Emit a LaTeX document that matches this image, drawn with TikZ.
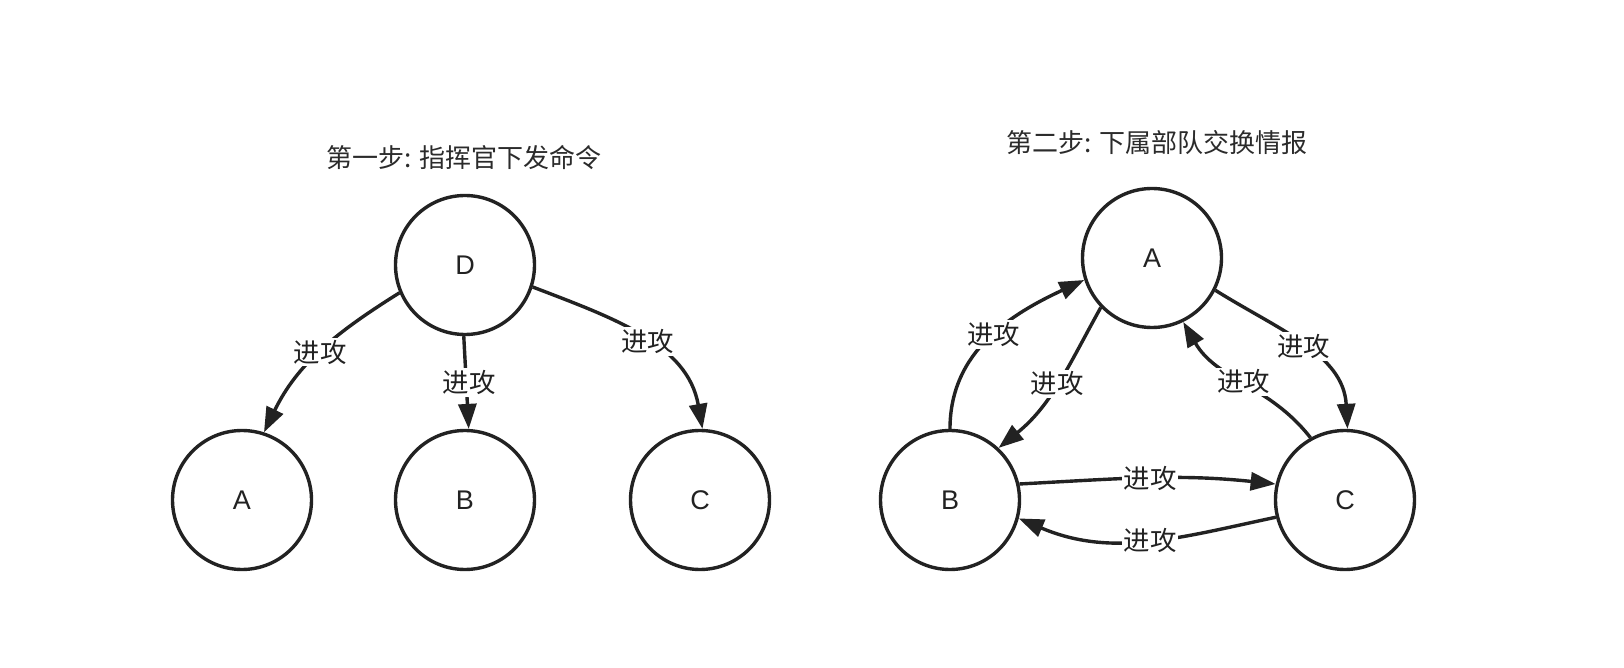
\documentclass[tikz,border=0pt]{standalone}
\usepackage{fontspec}
\setmainfont{Liberation Sans}
\newfontfamily\cjk{Noto Sans CJK SC}
\usepackage{tikz}
\usetikzlibrary{arrows.meta,positioning}
\definecolor{GraphInk}{HTML}{222222}
\definecolor{TitleInk}{HTML}{2B2B2B}

\begin{document}
\begin{tikzpicture}[x=0.5pt, y=-0.5pt,
  unit/.style={circle, draw=GraphInk, line width=1.7pt, minimum size=69.5pt, inner sep=0pt,
    font=\fontsize{13.5}{16}\selectfont, text=GraphInk},
  attack/.style={draw=GraphInk, line width=1.7pt, -{Triangle[length=12.5pt,width=9pt]}},
  attacklabel/.style={fill=white, inner sep=1pt, font=\cjk\fontsize{13.2}{15}\selectfont, text=GraphInk},
  steptitle/.style={font=\cjk\fontsize{13}{15}\selectfont, text=TitleInk}]

\useasboundingbox[fill=white] (0,0) rectangle (1624,668);

% step one: commander gives orders
\node[steptitle] (title1) at (464,158) {第一步: 指挥官下发命令};
\node[unit] (D) at (465,265) {D};
\node[unit] (A) at (242,500) {A};
\node[unit] (B) at (465,500) {B};
\node[unit] (C) at (700,500) {C};

\draw[attack] (D.203) to[out=212,in=64] node[attacklabel, pos=0.5] (lda) {进攻} (A.72);
\draw[attack] (D.269) -- node[attacklabel, pos=0.5, xshift=1.5pt] (ldb) {进攻} (B.87);
\draw[attack] (D.-18) to[out=-21,in=100] node[attacklabel, pos=0.53] (ldc) {进攻} (C.88);

% step two: units swap intel
\node[steptitle] (title2) at (1157,143) {第二步: 下属部队交换情报};
\node[unit] (A2) at (1152,258) {A};
\node[unit] (B2) at (950,500) {B};
\node[unit] (C2) at (1345,500) {C};

\draw[attack] (B2.90) to[out=90,in=205] node[attacklabel, pos=0.52] (lba) {进攻} (A2.198);
\draw[attack] (A2.224) to[out=241,in=39] node[attacklabel, pos=0.5] (lab) {进攻} (B2.47);
\draw[attack] (A2.-27) to[out=-32,in=93] node[attacklabel, pos=0.5] (lac) {进攻} (C2.88);
\draw[attack] (C2.119) to[out=128,in=300] node[attacklabel, pos=0.5] (lca) {进攻} (A2.-64);
\draw[attack] (B2.13) to[out=3,in=174] node[attacklabel, pos=0.51] (lbc) {进攻} (C2.167);
\draw[attack] (C2.194) to[out=192,in=-23] node[attacklabel, pos=0.48] (lcb) {进攻} (B2.-15);
\end{tikzpicture}
\end{document}
